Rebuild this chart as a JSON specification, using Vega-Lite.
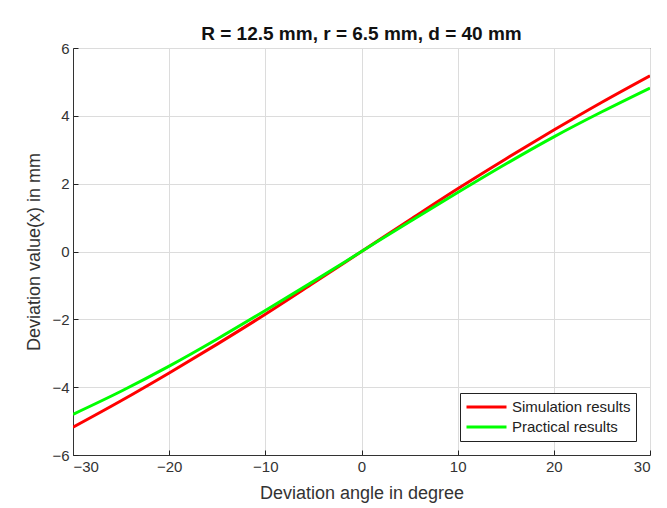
{
  "$schema": "https://vega.github.io/schema/vega-lite/v6.json",
  "width": 577,
  "height": 407,
  "autosize": {"type": "none"},
  "padding": {"left": 73, "top": 48, "right": 17, "bottom": 53},
  "background": "white",
  "title": {"text": "R = 12.5 mm, r = 6.5 mm, d = 40 mm", "font": "Liberation Sans", "fontSize": 19, "fontWeight": "bold", "color": "#111", "offset": -3},
  "config": {
    "view": {"stroke": "#333", "strokeWidth": 1},
    "axis": {"labelFont": "Liberation Sans", "titleFont": "Liberation Sans", "labelFontSize": 15, "titleFontSize": 18, "titleFontWeight": "normal", "labelColor": "#333", "titleColor": "#333", "domainColor": "#333", "tickColor": "#222", "gridColor": "#dcdcdc", "tickSize": -5, "tickWidth": 1}
  },
  "data": {"values": [
    {"angle": -30, "value": -5.18, "series": "Simulation results"},
    {"angle": -25, "value": -4.4, "series": "Simulation results"},
    {"angle": -20, "value": -3.58, "series": "Simulation results"},
    {"angle": -15, "value": -2.73, "series": "Simulation results"},
    {"angle": -10, "value": -1.85, "series": "Simulation results"},
    {"angle": -5, "value": -0.93, "series": "Simulation results"},
    {"angle": 0, "value": 0, "series": "Simulation results"},
    {"angle": 5, "value": 0.93, "series": "Simulation results"},
    {"angle": 10, "value": 1.85, "series": "Simulation results"},
    {"angle": 15, "value": 2.73, "series": "Simulation results"},
    {"angle": 20, "value": 3.58, "series": "Simulation results"},
    {"angle": 25, "value": 4.4, "series": "Simulation results"},
    {"angle": 30, "value": 5.18, "series": "Simulation results"},
    {"angle": -30, "value": -4.8, "series": "Practical results"},
    {"angle": -25, "value": -4.12, "series": "Practical results"},
    {"angle": -20, "value": -3.38, "series": "Practical results"},
    {"angle": -15, "value": -2.58, "series": "Practical results"},
    {"angle": -10, "value": -1.74, "series": "Practical results"},
    {"angle": -5, "value": -0.88, "series": "Practical results"},
    {"angle": 0, "value": 0, "series": "Practical results"},
    {"angle": 5, "value": 0.88, "series": "Practical results"},
    {"angle": 10, "value": 1.74, "series": "Practical results"},
    {"angle": 15, "value": 2.58, "series": "Practical results"},
    {"angle": 20, "value": 3.38, "series": "Practical results"},
    {"angle": 25, "value": 4.12, "series": "Practical results"},
    {"angle": 30, "value": 4.82, "series": "Practical results"}
  ]},
  "layer": [
    {
      "mark": {"type": "line", "strokeWidth": 3, "interpolate": "monotone", "clip": true},
      "encoding": {
        "x": {"field": "angle", "type": "quantitative", "scale": {"domain": [-30, 30], "nice": false}, "axis": {"title": "Deviation angle in degree", "values": [-30, -20, -10, 0, 10, 20, 30], "labelPadding": 9, "titlePadding": 10}},
        "y": {"field": "value", "type": "quantitative", "scale": {"domain": [-6, 6], "nice": false}, "axis": {"title": "Deviation value(x) in mm", "values": [-6, -4, -2, 0, 2, 4, 6], "labelPadding": 9, "titlePadding": 8}},
        "color": {"field": "series", "type": "nominal", "sort": ["Simulation results", "Practical results"], "scale": {"domain": ["Simulation results", "Practical results"], "range": ["#ff0000", "#00ff00"]},
          "legend": {"title": null, "orient": "bottom-right", "offset": 14, "padding": 5, "strokeColor": "#222", "fillColor": "white", "symbolType": "stroke", "symbolSize": 1600, "clipHeight": 18, "symbolStrokeWidth": 3, "labelFont": "Liberation Sans", "labelFontSize": 15, "labelOffset": 4, "labelColor": "#222", "rowPadding": 2}}
      }
    }
  ]
}
